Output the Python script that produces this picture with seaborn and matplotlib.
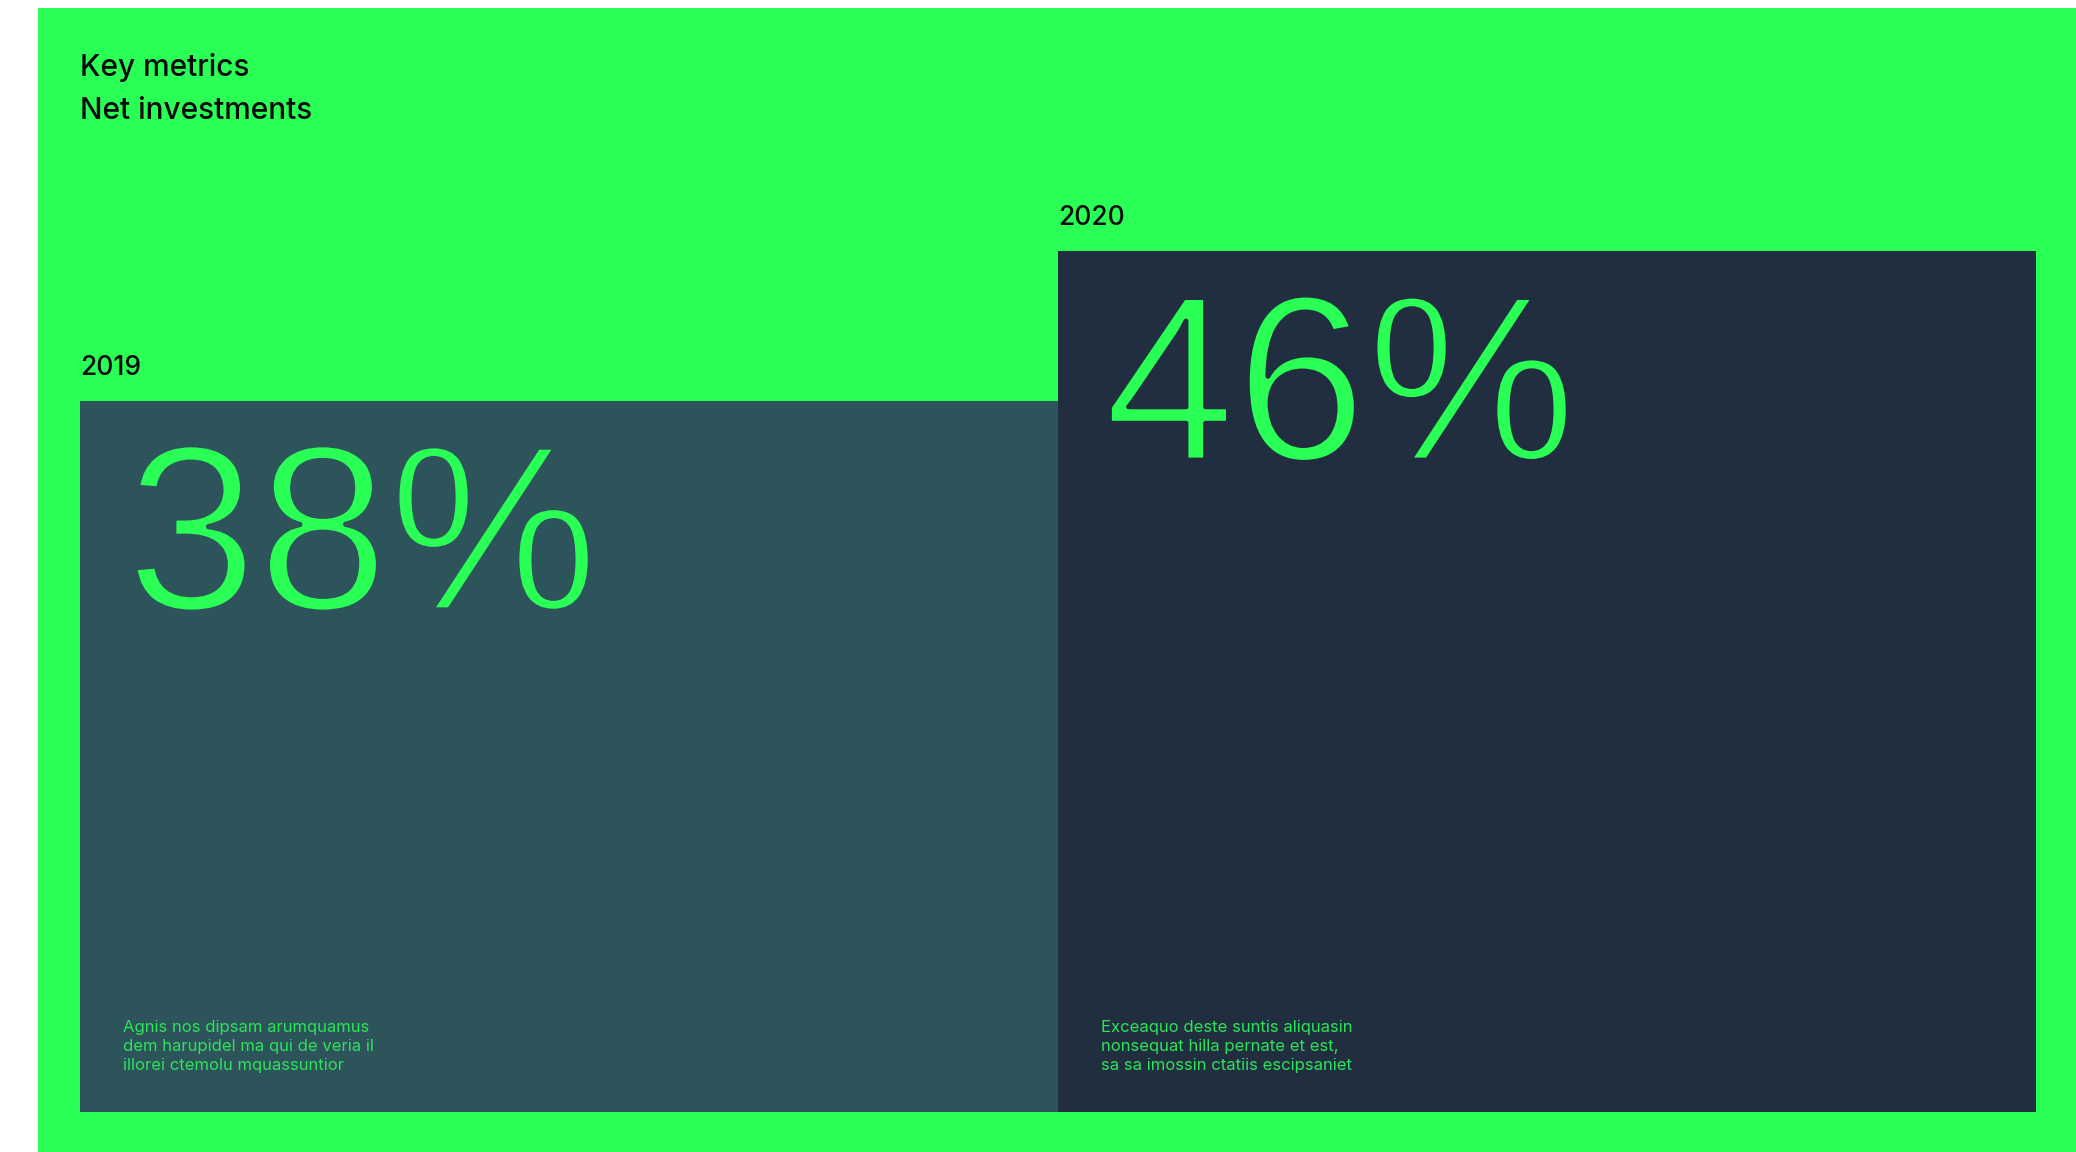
import matplotlib
matplotlib.use("Agg")
import matplotlib.pyplot as plt
import matplotlib.patheffects as pe
import seaborn as sns
import pandas as pd
from matplotlib.patches import Rectangle

# Data
years = ["2019", "2020"]
net_investments = [38, 46]
notes = [
    "Agnis nos dipsam arumquamus\ndem harupidel ma qui de veria il\nillorei ctemolu mquassuntior",
    "Exceaquo deste suntis aliquasin\nnonsequat hilla pernate et est,\nsa sa imossin ctatiis escipsaniet",
]
title = "Key metrics"
subtitle = "Net investments"

# Colours
green = "#2aff55"
note_green = "#2ce35a"
bar_colors = ["#2d535b", "#212e40"]
ink = "#0a0a0a"

sns.set_theme(style="white")
plt.rcParams["font.family"] = ["Inter", "DejaVu Sans"]

W, H, DPI = 2076, 1152, 100
fig = plt.figure(figsize=(W / DPI, H / DPI), dpi=DPI)
fig.patch.set_facecolor("white")

# green panel (white strip on the left and top)
fig.patches.append(Rectangle((38 / W, 0), (W - 38) / W, (H - 8) / H,
                             transform=fig.transFigure, facecolor=green,
                             edgecolor="none", zorder=-5))

# axes covering the bar area
left, right, base, top = 80, 2036, 1112, 251
ax = fig.add_axes([left / W, (H - base) / H, (right - left) / W, (base - top) / H])
ax.set_facecolor("none")
ax.set_zorder(2)

df = pd.DataFrame({"year": years, "value": net_investments})
sns.barplot(data=df, x="year", y="value", hue="year", palette=bar_colors,
            width=1.0, saturation=1, legend=False, linewidth=0, ax=ax)
ax.set_xlim(-0.5, 1.5)
ax.set_ylim(0, max(net_investments))
ax.axis("off")

for i, (yr, val, note) in enumerate(zip(years, net_investments, notes)):
    x0 = i - 0.5
    # year label above the bar
    ax.annotate(yr, xy=(x0, val), xytext=(0, 26), textcoords="offset pixels",
                ha="left", va="baseline", fontsize=19, color=ink,
                fontweight="medium", annotation_clip=False)
    # big percentage (outline in bar colour thins the strokes)
    ax.annotate(f"{val}%", xy=(x0, val), xytext=(46, -209), textcoords="offset pixels",
                ha="left", va="baseline", fontsize=170, color=green,
                family=["Liberation Sans", "DejaVu Sans"], annotation_clip=False,
                path_effects=[pe.Stroke(linewidth=3.5, foreground=bar_colors[i])])
    # small note at the bottom
    ax.annotate(note, xy=(x0, 0), xytext=(43, 42), textcoords="offset pixels",
                ha="left", va="baseline", fontsize=12, color=note_green,
                linespacing=1.32, annotation_clip=False)

fig.text(80 / W, 1 - 76 / H, title, ha="left", va="baseline", fontsize=21.5,
         color=ink, fontweight="medium")
fig.text(80 / W, 1 - 119 / H, subtitle, ha="left", va="baseline", fontsize=21.5,
         color=ink, fontweight="medium")

fig.savefig("out.png", dpi=DPI, facecolor=fig.get_facecolor())
